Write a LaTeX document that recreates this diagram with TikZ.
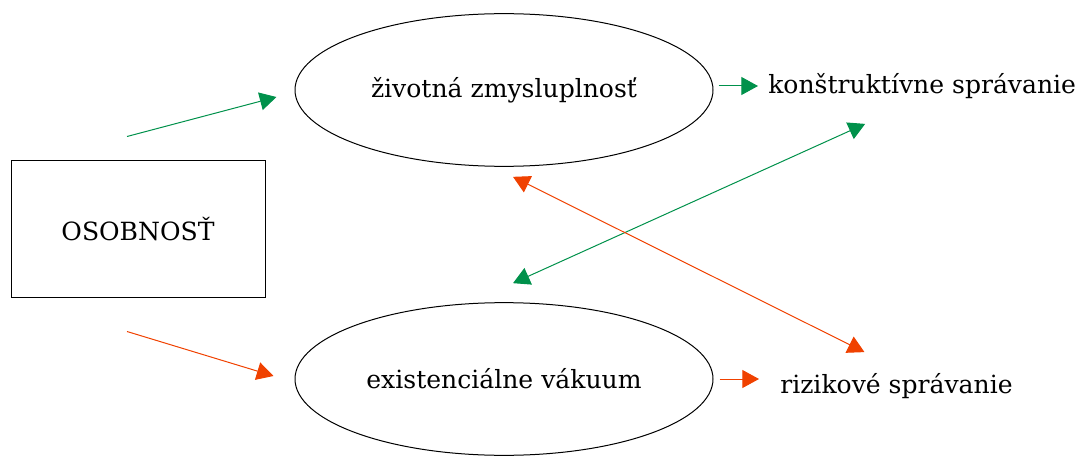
\documentclass[tikz,border=0pt]{standalone}
\usepackage{fontspec}
\setmainfont{DejaVu Serif}
\usetikzlibrary{arrows.meta,shapes.geometric}
\definecolor{zelena}{RGB}{0,145,75}
\definecolor{oranz}{RGB}{240,65,0}
\tikzset{box/.style = {shape=rectangle,draw,line width=0.75pt,minimum width=190.5pt,minimum height=102pt}}
\tikzset{oval/.style = {shape=ellipse,draw,line width=0.75pt,minimum width=313.5pt,minimum height=114.5pt,inner sep=0pt}}
\tikzset{label/.style = {inner sep=0pt,anchor=west}}
\tikzset{tip/.tip = {Triangle[length=12.5pt,width=13.5pt]}}
\tikzset{gedge/.style = {-tip,draw=zelena,line width=0.75pt}}
\tikzset{redge/.style = {-tip,draw=oranz,line width=0.75pt}}

\begin{document}
\begin{tikzpicture}[x=0.75pt,y=-0.75pt,font=\fontsize{18.8pt}{23pt}\selectfont]
          \useasboundingbox (0,0) rectangle (1084,456);
          \node[box] (os) at (138,229) {OSOBNOSŤ};
          \node[oval] (zm) at (504,90) {životná zmysluplnosť};
          \node[oval] (ev) at (504,379) {existenciálne vákuum};
          \node[label] (ks) at (768,86) {konštruktívne správanie};
          \node[label] (rs) at (780,386) {rizikové správanie};

          \draw[gedge] ([shift={(-11,-24)}]os.north) -- ([shift={(-18,7)}]zm.west);
          \draw[redge] ([shift={(-11,34)}]os.south) -- ([shift={(-21,-3)}]ev.west);
          \draw[gedge,shorten <=3.75pt,shorten >=7.5pt] (zm.east |- ks.west) -- (ks.west);
          \draw[redge,shorten <=4.5pt,shorten >=15.75pt] (ev.east) -- (ev.east -| rs.west);
          \draw[gedge,tip-tip] ([shift={(9,-19)}]ev.north) -- ([shift={(-57,25)}]ks.south);
          \draw[redge,tip-tip] ([shift={(9,10)}]zm.south) -- ([shift={(-32,-21)}]rs.north);
        \end{tikzpicture}
\end{document}
